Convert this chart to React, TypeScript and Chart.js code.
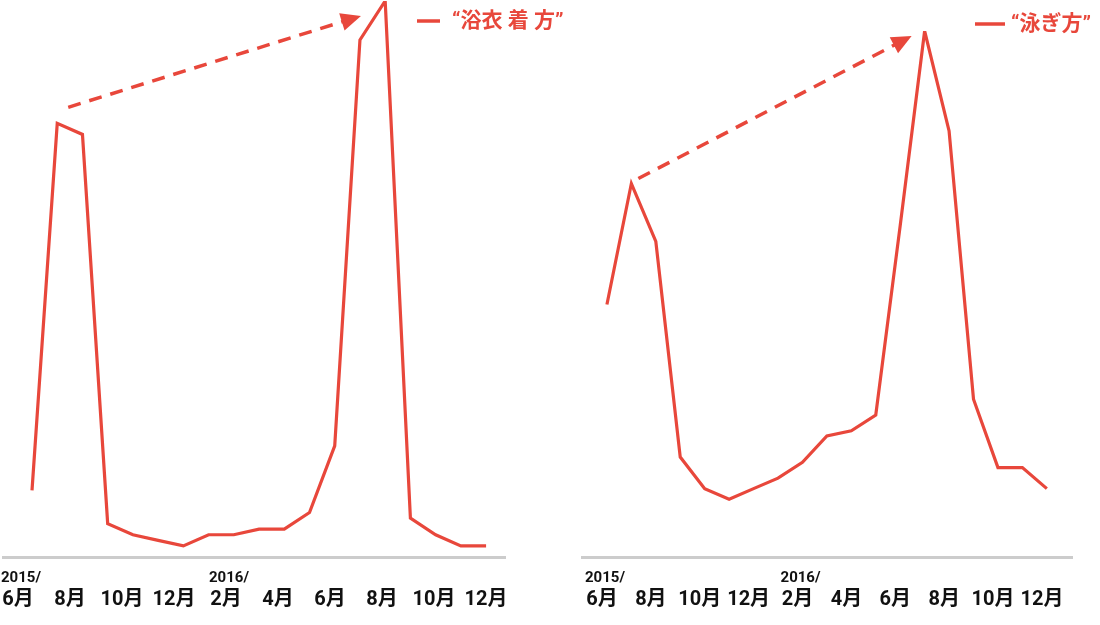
import React, { useEffect, useRef } from "react";
import { Chart, registerables } from "chart.js";

Chart.register(...registerables);

// ---- data ----
const monthCategories = [
  "2015/6", "2015/7", "2015/8", "2015/9", "2015/10", "2015/11", "2015/12",
  "2016/1", "2016/2", "2016/3", "2016/4", "2016/5", "2016/6", "2016/7",
  "2016/8", "2016/9", "2016/10", "2016/11", "2016/12",
];
const yukataLabel = "“浴衣 着 方”";
const yukataValues = [12, 78, 76, 6, 4, 3, 2, 4, 4, 5, 5, 8, 20, 93, 100, 7, 4, 2, 2];
const swimLabel = "“泳ぎ方”";
const swimValues = [48, 71, 60, 19, 13, 11, 13, 15, 18, 23, 24, 27, 63, 100, 81, 30, 17, 17, 13];
const monthTickLabels = ["6月", "8月", "10月", "12月", "2月", "4月", "6月", "8月", "10月", "12月"];
const monthTickIndex = [0, 2, 4, 6, 8, 10, 12, 14, 16, 18];
const yearTickLabels = ["2015/", "2016/"];
const yearTickIndex = [0, 8];

const RED = "#e8473b";
const FONT = "Roboto, 'Noto Sans CJK JP', sans-serif";

type Spec = {
  width: number;
  label: string;
  values: number[];
  dataMin: number;
  dataMax: number;
  tickMin: number;
  tickMax: number;
  padding: { left: number; right: number; top: number; bottom: number };
  legendX: number;
  legendY: number;
  legendLineW: number;
  legendTextX: number;
  arrow: { from: number; fromDx: number; fromDy: number; to: number; toDx: number; toDy: number };
};

const annotatePlugin = {
  id: "annot",
  afterDatasetsDraw(chart: any, _args: any, opts: any) {
    const ctx = chart.ctx as CanvasRenderingContext2D;
    const meta = chart.getDatasetMeta(0);
    const a = opts.arrow;
    const p0 = meta.data[a.from];
    const p1 = meta.data[a.to];
    const sx = p0.x + a.fromDx;
    const sy = p0.y + a.fromDy;
    const tx = p1.x + a.toDx;
    const ty = p1.y + a.toDy;
    const dx = tx - sx;
    const dy = ty - sy;
    const len = Math.hypot(dx, dy);
    const ux = dx / len;
    const uy = dy / len;
    const head = 20;
    const half = 9;
    const bx = tx - ux * head;
    const by = ty - uy * head;
    ctx.save();
    ctx.strokeStyle = RED;
    ctx.lineWidth = 3.5;
    ctx.setLineDash([13, 9]);
    ctx.beginPath();
    ctx.moveTo(sx, sy);
    ctx.lineTo(bx + ux * 2, by + uy * 2);
    ctx.stroke();
    ctx.setLineDash([]);
    ctx.fillStyle = RED;
    ctx.beginPath();
    ctx.moveTo(tx, ty);
    ctx.lineTo(bx - uy * half, by + ux * half);
    ctx.lineTo(bx + uy * half, by - ux * half);
    ctx.closePath();
    ctx.fill();

    // legend
    const lx = opts.legendX;
    const ly = opts.legendY;
    ctx.lineWidth = 3.5;
    ctx.beginPath();
    ctx.moveTo(lx, ly);
    ctx.lineTo(lx + opts.legendLineW, ly);
    ctx.stroke();
    ctx.font = `bold 21px ${FONT}`;
    ctx.textBaseline = "middle";
    ctx.textAlign = "left";
    ctx.fillText(chart.data.datasets[0].label, opts.legendTextX, ly + 1);
    ctx.restore();
  },
};

const noPad = (s: any) => {
  s.paddingLeft = 0;
  s.paddingRight = 0;
};

function LineChart({ spec }: { spec: Spec }) {
  const ref = useRef<HTMLCanvasElement | null>(null);
  useEffect(() => {
    if (!ref.current) return;
    const tickFont = (size: number) => ({ family: FONT, size, weight: "bold" as const });
    const chart = new Chart(ref.current, {
      type: "line",
      data: {
        labels: monthCategories,
        datasets: [
          {
            label: spec.label,
            data: spec.values.map((v, i) => ({ x: i, y: v })),
            xAxisID: "x",
            yAxisID: "y",
            borderColor: RED,
            backgroundColor: RED,
            borderWidth: 3.2,
            pointRadius: 0,
            pointHoverRadius: 0,
            tension: 0,
            fill: false,
            borderJoinStyle: "miter",
          },
        ],
      },
      options: {
        responsive: false,
        animation: false,
        events: [],
        layout: { padding: spec.padding },
        plugins: {
          legend: { display: false },
          tooltip: { enabled: false },
          annot: {
            arrow: spec.arrow,
            legendX: spec.legendX,
            legendY: spec.legendY,
            legendLineW: spec.legendLineW,
            legendTextX: spec.legendTextX,
          },
        } as any,
        scales: {
          x: {
            type: "linear",
            min: spec.dataMin,
            max: spec.dataMax,
            weight: 0,
            grid: { display: false, drawTicks: false },
            border: { display: true, color: "#cccccc", width: 3 },
            ticks: { display: false },
            afterFit: (s: any) => {
              noPad(s);
              s.height = 0;
            },
          },
          xYear: {
            type: "linear",
            axis: "x",
            position: "bottom",
            min: spec.tickMin,
            max: spec.tickMax,
            weight: 1,
            grid: { display: false, drawTicks: false },
            border: { display: false },
            afterBuildTicks: (s: any) => {
              s.ticks = yearTickIndex.map((v) => ({ value: v }));
            },
            afterFit: (s: any) => {
              noPad(s);
              s.height = 27;
            },
            ticks: {
              padding: 12,
              color: "#111111",
              font: tickFont(15),
              autoSkip: false,
              maxRotation: 0,
              labelOffset: 3,
              callback: (_v: any, i: number) => yearTickLabels[i],
            },
          },
          xMonth: {
            type: "linear",
            axis: "x",
            position: "bottom",
            min: spec.tickMin,
            max: spec.tickMax,
            weight: 2,
            grid: { display: false, drawTicks: false },
            border: { display: false },
            afterBuildTicks: (s: any) => {
              s.ticks = monthTickIndex.map((v) => ({ value: v }));
            },
            afterFit: (s: any) => {
              noPad(s);
              s.height = 41;
            },
            ticks: {
              padding: 4,
              color: "#111111",
              font: tickFont(20),
              autoSkip: false,
              maxRotation: 0,
              callback: (_v: any, i: number) => monthTickLabels[i],
            },
          },
          y: { display: false, min: 0, max: 100 },
        } as any,
      },
      plugins: [annotatePlugin],
    });
    return () => chart.destroy();
  }, [spec]);
  return <canvas ref={ref} width={spec.width} height={625} />;
}

const leftSpec: Spec = {
  width: 600,
  label: yukataLabel,
  values: yukataValues,
  dataMin: -1.15,
  dataMax: 18.75,
  tickMin: -0.577,
  tickMax: 18.73,
  padding: { left: 3, right: 95, top: 1, bottom: 0 },
  legendX: 417,
  legendY: 21,
  legendLineW: 23,
  legendTextX: 452,
  arrow: { from: 1, fromDx: 11, fromDy: -16, to: 13, toDx: 1, toDy: -24 },
};

const rightSpec: Spec = {
  width: 550,
  label: swimLabel,
  values: swimValues,
  dataMin: -1.02,
  dataMax: 19.03,
  tickMin: -0.818,
  tickMax: 19.23,
  padding: { left: 32, right: 28, top: 31, bottom: 0 },
  legendX: 425,
  legendY: 24,
  legendLineW: 30,
  legendTextX: 461,
  arrow: { from: 1, fromDx: 7, fromDy: -5, to: 13, toDx: -13, toDy: 5 },
};

export default function App() {
  return (
    <div style={{ position: "absolute", left: 0, top: 0, width: 1100, height: 625, background: "#ffffff" }}>
      <div style={{ position: "absolute", left: 0, top: 0, width: 600, height: 625 }}>
        <LineChart spec={leftSpec} />
      </div>
      <div style={{ position: "absolute", left: 550, top: 0, width: 550, height: 625 }}>
        <LineChart spec={rightSpec} />
      </div>
    </div>
  );
}
